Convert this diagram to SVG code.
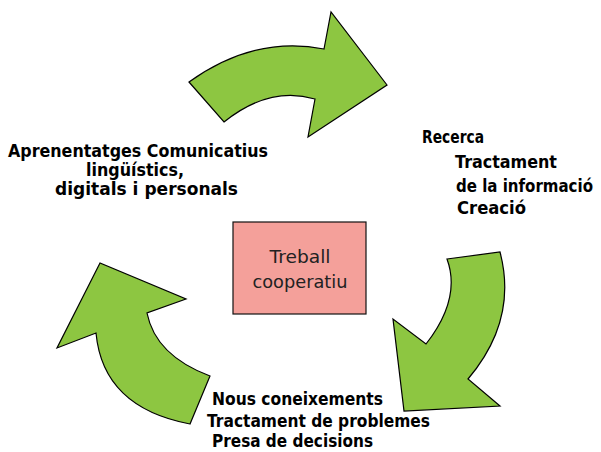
<svg xmlns="http://www.w3.org/2000/svg" width="601" height="452" viewBox="0 0 601 452">
<style>
.arrow{fill:#8DC641;stroke:#000;stroke-width:1.2;stroke-linejoin:miter}
.lbl{font-family:"DejaVu Sans","Noto Sans",sans-serif;font-weight:bold;font-size:17px;fill:#000}
.box{fill:#F4A09A;stroke:#111;stroke-width:1.2}
.boxt{font-family:"DejaVu Sans","Noto Sans",sans-serif;font-size:18px;fill:#222;text-anchor:middle}
</style>
<rect width="601" height="452" fill="#fff"/>
<g id="connectors">
<path class="arrow" d="M189,82 L224,122 Q269.5,85.5 315,99 L308,137 L387,85 L331,12 L324,49 Q255,35 189,82 Z"/>
<path class="arrow" d="M447,259 L500,252 Q518,320 468,379 L500,406 L404,411 L393,319 L426,344 Q461.5,298.5 447,259 Z"/>
<path class="arrow" d="M210,376 L190,424 Q103,407.5 96,333 L57,348 L100,263 L186,299 L147,313 Q155.5,355.5 210,376 Z"/>
</g>
<g id="center">
<rect class="box" x="233" y="222" width="133" height="92"/>
<text class="boxt" x="300" y="263" textLength="61" lengthAdjust="spacingAndGlyphs">Treball</text>
<text class="boxt" x="300" y="288" textLength="95" lengthAdjust="spacingAndGlyphs">cooperatiu</text>
</g>
<g id="left-label">
<text class="lbl" x="8" y="157" textLength="260" lengthAdjust="spacingAndGlyphs">Aprenentatges Comunicatius</text>
<text class="lbl" x="86" y="176" textLength="98" lengthAdjust="spacingAndGlyphs">lingüístics,</text>
<text class="lbl" x="55" y="195" textLength="183" lengthAdjust="spacingAndGlyphs">digitals i personals</text>
</g>
<g id="right-label">
<text class="lbl" x="422" y="143" textLength="62" lengthAdjust="spacingAndGlyphs">Recerca</text>
<text class="lbl" x="455" y="168" textLength="102" lengthAdjust="spacingAndGlyphs">Tractament</text>
<text class="lbl" x="456" y="192" textLength="137" lengthAdjust="spacingAndGlyphs">de la informació</text>
<text class="lbl" x="457" y="214" textLength="69" lengthAdjust="spacingAndGlyphs">Creació</text>
</g>
<g id="bottom-label">
<text class="lbl" x="212" y="405" textLength="171" lengthAdjust="spacingAndGlyphs">Nous coneixements</text>
<text class="lbl" x="207" y="427" textLength="223" lengthAdjust="spacingAndGlyphs">Tractament de problemes</text>
<text class="lbl" x="212" y="447" textLength="161" lengthAdjust="spacingAndGlyphs">Presa de decisions</text>
</g>
</svg>
